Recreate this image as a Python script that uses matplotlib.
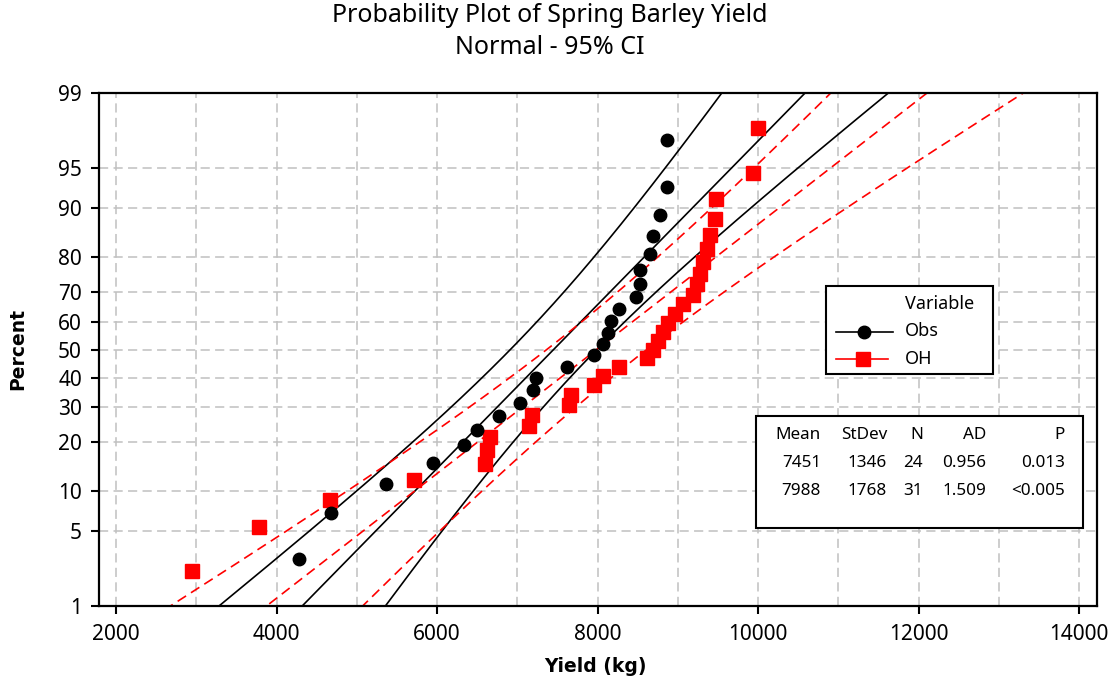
import matplotlib
matplotlib.use("Agg")
import matplotlib.pyplot as plt
import numpy as np
from statistics import NormalDist
from matplotlib.lines import Line2D
from matplotlib.patches import Rectangle

# ---------------- data ----------------
obs_yield = [4285, 4679, 5370, 5948, 6330, 6500, 6770, 7030, 7190, 7238, 7620, 7950,
             8068, 8131, 8170, 8265, 8480, 8530, 8530, 8650, 8690, 8779, 8870, 8870]
obs_pct = [2.87, 6.97, 11.07, 15.16, 19.26, 23.36, 27.46, 31.56, 35.66, 39.75, 43.85, 47.95,
           52.05, 56.15, 60.25, 64.34, 68.44, 72.54, 76.64, 80.74, 84.84, 88.93, 93.03, 97.13]

oh_yield = [2951, 3786, 4667, 5715, 6598, 6623, 6660, 7150, 7180, 7645, 7666, 7956, 8072,
            8268, 8620, 8695, 8757, 8820, 8882, 8966, 9070, 9195, 9245, 9277, 9320, 9370,
            9403, 9464, 9477, 9941, 9996]
oh_pct = [2.229, 5.414, 8.599, 11.783, 14.968, 18.153, 21.338, 24.522, 27.707, 30.892,
          34.076, 37.261, 40.446, 43.631, 46.815, 50.0, 53.185, 56.369, 59.554, 62.739,
          65.924, 69.108, 72.293, 75.478, 78.662, 81.847, 85.032, 88.217, 91.401, 94.586,
          97.771]

series_names = ["Obs", "OH"]
means = [7451, 7988]
stdevs = [1346, 1768]
ns = [24, 31]
ads = ["0.956", "1.509"]
pvals = ["0.013", "<0.005"]

y_ticks = [1, 5, 10, 20, 30, 40, 50, 60, 70, 80, 90, 95, 99]
x_ticks = [2000, 4000, 6000, 8000, 10000, 12000, 14000]
x_grid = list(range(2000, 14001, 1000))

# ---------------- scale ----------------
ND = NormalDist()
_inv = np.vectorize(ND.inv_cdf, otypes=[float])
_cdf = np.vectorize(ND.cdf, otypes=[float])


def fwd(p):
    p = np.clip(np.asarray(p, dtype=float) / 100.0, 1e-9, 1 - 1e-9)
    return _inv(p)


def inv(z):
    return _cdf(np.asarray(z, dtype=float)) * 100.0


plt.rcParams["font.family"] = ["Noto Sans", "DejaVu Sans"]

W, H = 1115, 685
fig = plt.figure(figsize=(W / 100, H / 100), dpi=100)


def fx(px):
    return px / W


def fy(py):
    return 1 - py / H


ax = fig.add_axes([fx(98.7), fy(606), fx(1096.7) - fx(98.7), fy(93.3) - fy(606)])
ax.set_yscale("function", functions=(fwd, inv))
ax.set_ylim(1, 99)
ax.set_xlim(1784, 14220)

# grid
for g in x_grid:
    ax.axvline(g, color="#c0c0c0", lw=1.1, ls=(0, (6, 3.5)), zorder=0)
for t in y_ticks[1:-1]:
    ax.axhline(t, color="#c0c0c0", lw=1.1, ls=(0, (6, 3.5)), zorder=0)

# fitted lines and CI bands
pgrid = np.linspace(0.3, 99.7, 400)
zg = fwd(pgrid)
styles = [dict(color="black", ls="-", lw=1.2), dict(color="#ff0000", ls=(0, (6, 3.5)), lw=1.2)]
for m, s, n, st in zip(means, stdevs, ns, styles):
    fit = m + s * zg
    half = 1.959964 * s * np.sqrt(1.0 / n + zg ** 2 / (2.0 * n))
    ax.plot(fit, pgrid, zorder=2, **st)
    ax.plot(fit - half, pgrid, zorder=2, **st)
    ax.plot(fit + half, pgrid, zorder=2, **st)

ax.plot(obs_yield, obs_pct, ls="none", marker="o", ms=9, color="black", zorder=4)
ax.plot(oh_yield, oh_pct, ls="none", marker="s", ms=9.5, color="#ff0000", zorder=3)

ax.set_yticks(y_ticks)
ax.set_yticklabels([str(t) for t in y_ticks])
ax.set_xticks(x_ticks)
ax.set_xticklabels([str(t) for t in x_ticks])
ax.minorticks_off()
ax.tick_params(axis="both", which="major", labelsize=15, length=6, width=1.5, direction="out",
               color="black")
ax.tick_params(axis="y", pad=6)
ax.tick_params(axis="x", pad=7)
ax.tick_params(top=False, right=False)
for sp in ax.spines.values():
    sp.set_linewidth(1.6)
    sp.set_color("black")

# titles and labels
fig.text(fx(550), fy(15), "Probability Plot of Spring Barley Yield", ha="center", va="center",
         fontsize=18)
fig.text(fx(550), fy(47), "Normal - 95% CI", ha="center", va="center", fontsize=18)
fig.text(fx(595), fy(666), "Yield (kg)", ha="center", va="center", fontsize=13.5,
         fontweight="bold", family="DejaVu Sans")
fig.text(fx(18), fy(349), "Percent", ha="center", va="center", rotation=90, fontsize=13.5,
         fontweight="bold", family="DejaVu Sans")

# legend (manual, Minitab style)
fig.patches.append(Rectangle((fx(826), fy(374.3)), fx(993) - fx(826), fy(285.7) - fy(374.3),
                             transform=fig.transFigure, fill=True, facecolor="white",
                             edgecolor="black", lw=1.5, zorder=5))
fig.text(fx(905), fy(304), "Variable", ha="left", va="center", fontsize=13, zorder=6)
fig.lines.append(Line2D([fx(836), fx(893)], [fy(331.5), fy(331.5)], transform=fig.transFigure,
                        color="black", lw=1.2, marker=None, zorder=6))
fig.lines.append(Line2D([fx(864)], [fy(331.5)], transform=fig.transFigure, color="black",
                        marker="o", ms=9, ls="none", zorder=6))
fig.text(fx(905), fy(331.5), series_names[0], ha="left", va="center", fontsize=13, zorder=6)
fig.lines.append(Line2D([fx(836), fx(888)], [fy(359), fy(359)], transform=fig.transFigure,
                        color="#ff0000", lw=1.2, zorder=6))
fig.lines.append(Line2D([fx(863)], [fy(359)], transform=fig.transFigure, color="#ff0000",
                        marker="s", ms=9.5, ls="none", zorder=6))
fig.text(fx(905), fy(359), series_names[1], ha="left", va="center", fontsize=13, zorder=6)

# statistics table
fig.patches.append(Rectangle((fx(755.7), fy(527.7)), fx(1082.7) - fx(755.7), fy(415.7) - fy(527.7),
                             transform=fig.transFigure, fill=True, facecolor="white",
                             edgecolor="black", lw=1.5, zorder=5))
col_right = [821, 887, 923, 986, 1065]
headers = ["Mean", "StDev", "N", "AD", "P"]
for cx, h in zip(col_right, headers):
    fig.text(fx(cx), fy(435), h, ha="right", va="center", fontsize=12.3, zorder=6)
row_y = [463, 491]
for ry, m, s, n, a, p in zip(row_y, means, stdevs, ns, ads, pvals):
    for cx, v in zip(col_right, [str(m), str(s), str(n), a, p]):
        fig.text(fx(cx), fy(ry), v, ha="right", va="center", fontsize=12.3, zorder=6)

fig.savefig("out.png", dpi=100)
